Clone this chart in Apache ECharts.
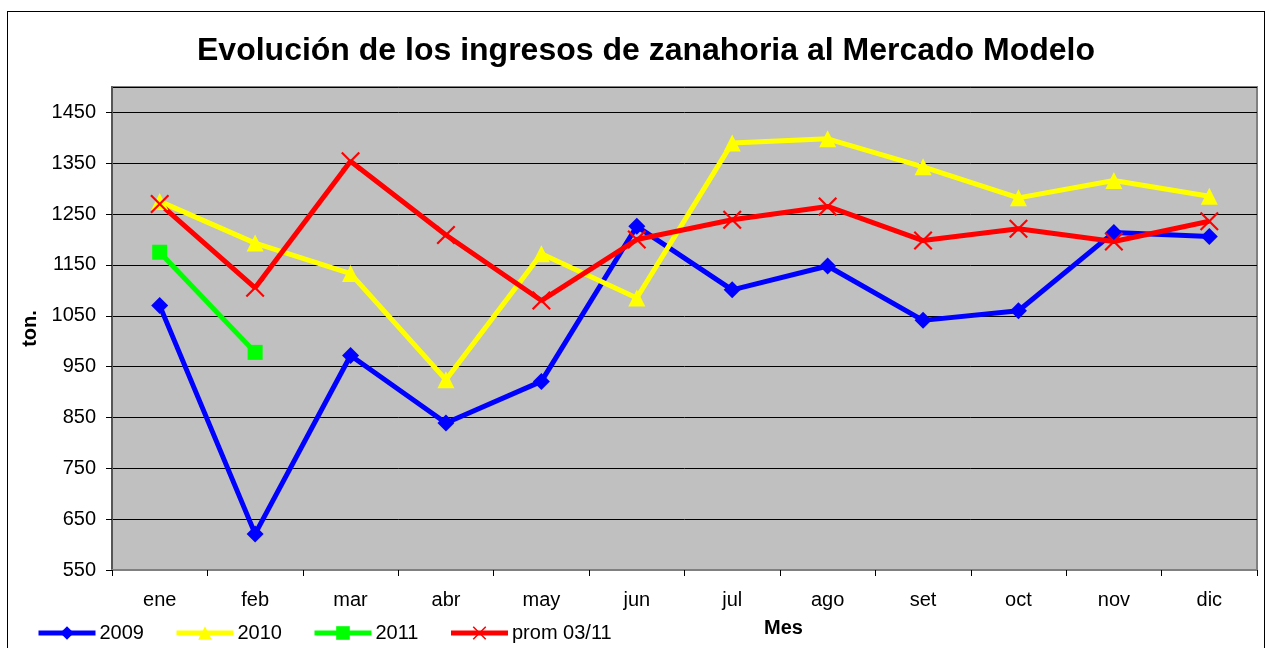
<!DOCTYPE html>
<html>
<head>
<meta charset="utf-8">
<script src="https://cdn.jsdelivr.net/npm/echarts@6/dist/echarts.min.js"></script>
<style>
html,body{margin:0;padding:0;background:#fff;}
#frame{position:absolute;left:7px;top:11px;width:1258px;height:660px;border:1px solid #000;box-sizing:border-box;pointer-events:none;}
#chart{position:absolute;left:0;top:0;width:1273px;height:648px;}
</style>
</head>
<body>
<div id="chart"></div>
<div id="frame"></div>
<script>
const months = ['ene','feb','mar','abr','may','jun','jul','ago','set','oct','nov','dic'];
const s2009 = [1070, 621, 972, 839, 921, 1226, 1101, 1148, 1041, 1060, 1214, 1206];
const s2010 = [1275, 1193, 1133, 924, 1172, 1085, 1390, 1398, 1343, 1282, 1316, 1285];
const s2011 = [1175, 978];
const sProm = [1270, 1105, 1354, 1209, 1080, 1200, 1239, 1265, 1198, 1221, 1196, 1236];
const yTicks = {min: 550, max: 1500, interval: 100};

const FONT = '"Liberation Sans", Arial, sans-serif';
const xPath = 'path://M0,0.8 L0.8,0 L5,4.2 L9.2,0 L10,0.8 L5.8,5 L10,9.2 L9.2,10 L5,5.8 L0.8,10 L0,9.2 L4.2,5 Z';

function lineSeries(name, data, color, symbol, size) {
  return {
    name: name, type: 'line', data: data,
    symbol: symbol, symbolSize: size, showSymbol: true,
    lineStyle: {color: color, width: 5},
    itemStyle: {color: color},
    emphasis: {disabled: true},
    animation: false,
    z: 3
  };
}

const chart = echarts.init(document.getElementById('chart'), null, {renderer: 'canvas'});
chart.setOption({
  animation: false,
  title: [
    {text: 'Evolución de los ingresos de zanahoria al Mercado Modelo', left: 197, top: 35, padding: 0,
     textStyle: {fontFamily: FONT, fontSize: 32, fontWeight: 'bold', color: '#000'}},
    {text: 'Mes', left: 764, top: 618, padding: 0,
     textStyle: {fontFamily: FONT, fontSize: 20, fontWeight: 'bold', color: '#000'}}
  ],
  legend: {
    left: 36, top: 623, orient: 'horizontal', padding: 0,
    itemWidth: 57, itemHeight: 17, itemGap: 30,
    lineStyle: {width: 5},
    textStyle: {fontFamily: FONT, fontSize: 20, color: '#000', padding: [0,0,0,-1]},
    data: ['2009','2010','2011','prom 03/11']
  },
  grid: {left: 112, right: 16, top: 87, bottom: 78, show: true, backgroundColor: '#C0C0C0',
         borderColor: '#808080', borderWidth: 2, containLabel: false},
  xAxis: {
    type: 'category', data: months, boundaryGap: true,
    axisLine: {show: true, lineStyle: {color: '#808080', width: 2}},
    axisTick: {show: true, alignWithLabel: false, interval: 0, length: 6, lineStyle: {color: '#000'}},
    axisLabel: {fontFamily: FONT, fontSize: 20, color: '#000', margin: 20, interval: 0},
    splitLine: {show: false}
  },
  yAxis: {
    type: 'value', min: yTicks.min, max: yTicks.max, interval: yTicks.interval,
    name: 'ton.', nameLocation: 'middle', nameGap: 72, nameRotate: 90,
    nameTextStyle: {fontFamily: FONT, fontSize: 20, fontWeight: 'bold', color: '#000'},
    axisLine: {show: true, lineStyle: {color: '#555', width: 2}},
    axisTick: {show: true, length: 6, lineStyle: {color: '#000'}},
    axisLabel: {fontFamily: FONT, fontSize: 20, color: '#000', margin: 16, showMaxLabel: false,
                formatter: function (v) { return String(v); }},
    splitLine: {show: true, lineStyle: {color: '#000', width: 1}}
  },
  series: [
    lineSeries('2009', s2009, '#0000FF', 'diamond', 17),
    lineSeries('2010', s2010, '#FFFF00', 'triangle', 17),
    lineSeries('2011', s2011, '#00FF00', 'rect', 15),
    lineSeries('prom 03/11', sProm, '#FF0000', xPath, 19)
  ]
});
</script>
</body>
</html>
